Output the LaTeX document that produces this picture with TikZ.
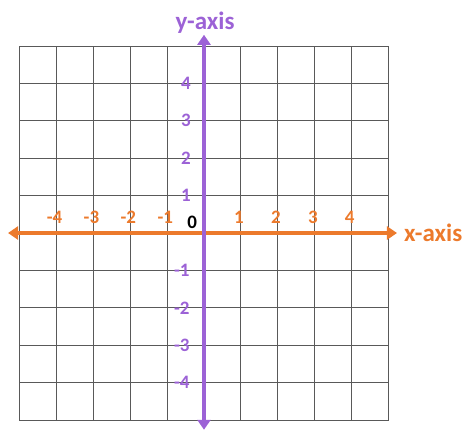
\documentclass[tikz,border=0pt]{standalone}
\usepackage{fontspec}
\setmainfont{Carlito}
\usetikzlibrary{arrows.meta}
\usepackage{xcolor}
\definecolor{axispurple}{RGB}{156,98,214}
\definecolor{axisorange}{RGB}{236,122,44}

\begin{document}
\begin{tikzpicture}[x=36.9pt, y=37.4pt,
    gridline/.style={black!65, line width=0.9pt},
    axisline/.style={line width=4pt, {Triangle[width=13pt,length=10pt]}-{Triangle[width=13pt,length=10pt]}},
    xnum/.style={text=axisorange, font=\bfseries\fontsize{19}{21}\selectfont, inner sep=0pt},
    ynum/.style={text=axispurple, font=\bfseries\fontsize{19}{21}\selectfont, inner sep=0pt}]
        \useasboundingbox (-5.528,-5.241) rectangle (7.154,6.230);

        % Grid
        \foreach \i in {-5,...,5} {
            \draw[gridline] (\i,-5) -- (\i,5);
            \draw[gridline] (-5,\i) -- (5,\i);
        }

        % Axis end points
        \coordinate (xl) at (-5.31,0);
        \coordinate (xr) at (5.23,0);
        \coordinate (yb) at (0,-5.26);
        \coordinate (yt) at (0,5.30);

        % Axes
        \draw[axisline, axisorange] (xl) -- (xr);
        \draw[axisline, axispurple] (yb) -- (yt);

        % Axis names
        \node[text=axisorange, font=\bfseries\fontsize{25}{28}\selectfont, anchor=west] (xname) at (5.33,0) {x-axis};
        \node[text=axispurple, font=\bfseries\fontsize{25}{28}\selectfont] (yname) at (0.03,5.63) {y-axis};

        % Numbers on the x-axis
        \foreach \x in {-4,...,-1,1,2,3,4}
            \node[xnum] (xnum\x) at (\x-0.05,0.43) {\x};
        \node[inner sep=0pt, font=\bfseries\fontsize{19}{21}\selectfont] (origin) at (-0.32,0.29) {0};

        % Numbers on the y-axis
        \foreach \y in {1,...,4}
            \node[ynum] (ynum\y) at (-0.49,\y) {\y};
        \foreach \y in {-4,...,-1}
            \node[ynum] (ynum\y) at (-0.6,\y) {\y};
\end{tikzpicture}
\end{document}
